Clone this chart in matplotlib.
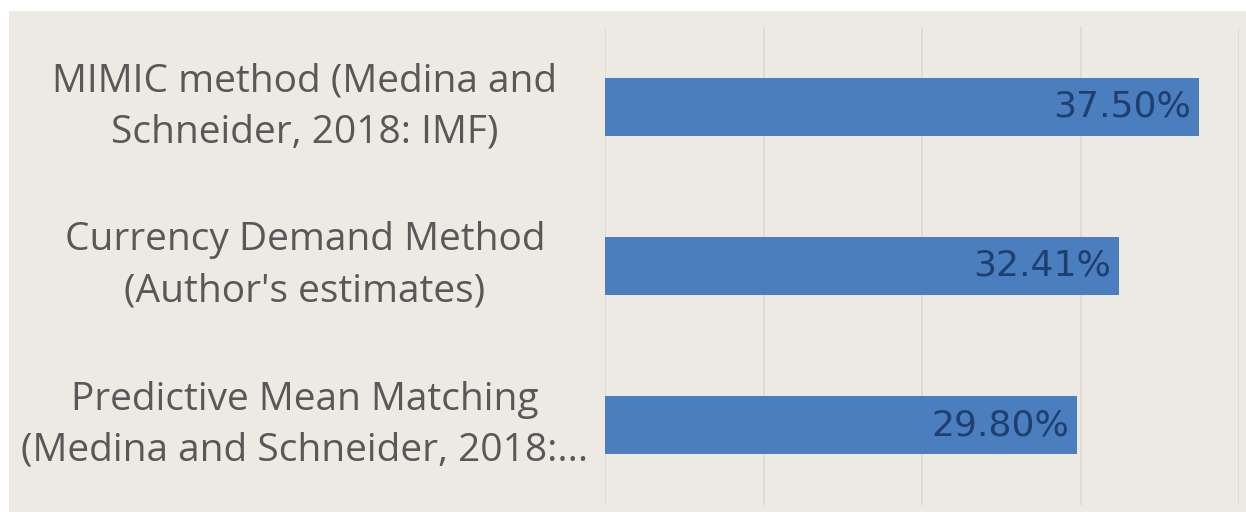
import matplotlib.pyplot as plt
from matplotlib.patches import Rectangle
from matplotlib.transforms import blended_transform_factory

##### Data #####
categories = ["MIMIC method (Medina and\nSchneider, 2018: IMF)",
              "Currency Demand Method\n(Author's estimates)",
              "Predictive Mean Matching\n(Medina and Schneider, 2018:..."]
values = [37.50, 32.41, 29.80]
value_labels = ["37.50%", "32.41%", "29.80%"]

bg = "#EDEAE3"
bar_color = "#4A7EBF"

W, H = 1246, 512
fig = plt.figure(figsize=(W/100, H/100), dpi=100, facecolor="white")
fig.patches.append(Rectangle((9/W, 0), 1 - 9/W, 1 - 11/H, transform=fig.transFigure,
                             facecolor=bg, edgecolor="none", zorder=-10))

ax = fig.add_axes([605/W, 1 - 505/H, (1239-605)/W, (505-27)/H])
ax.set_facecolor("none")

y = list(range(len(categories)))[::-1]
ax.barh(y, values, height=0.365, color=bar_color, zorder=2)

for yi, v, lab in zip(y, values, value_labels):
    ax.text(v - 0.5, yi, lab, ha="right", va="center", fontsize=26,
            color="#1F3F6E", family="Liberation Sans Narrow", zorder=3)

# category labels centred in the label area, like Excel does it
trans = blended_transform_factory(fig.transFigure, ax.transData)
for yi, cat in zip(y, categories):
    ax.text(305/W, yi, cat, transform=trans, ha="center", va="center",
            multialignment="center", fontsize=28, color="#585858",
            family="Open Sans", linespacing=1.45)

ax.set_xlim(0, 40)
ax.set_ylim(-0.5, 2.5)
ax.set_xticks([0, 10, 20, 30, 40])
ax.set_xticklabels([])
ax.xaxis.grid(True, color="#DCD9D2", linewidth=1.2, zorder=0)
ax.set_yticks([])
ax.tick_params(length=0)
for s in ax.spines.values():
    s.set_visible(False)

fig.savefig("out.png", dpi=100, facecolor="white")
